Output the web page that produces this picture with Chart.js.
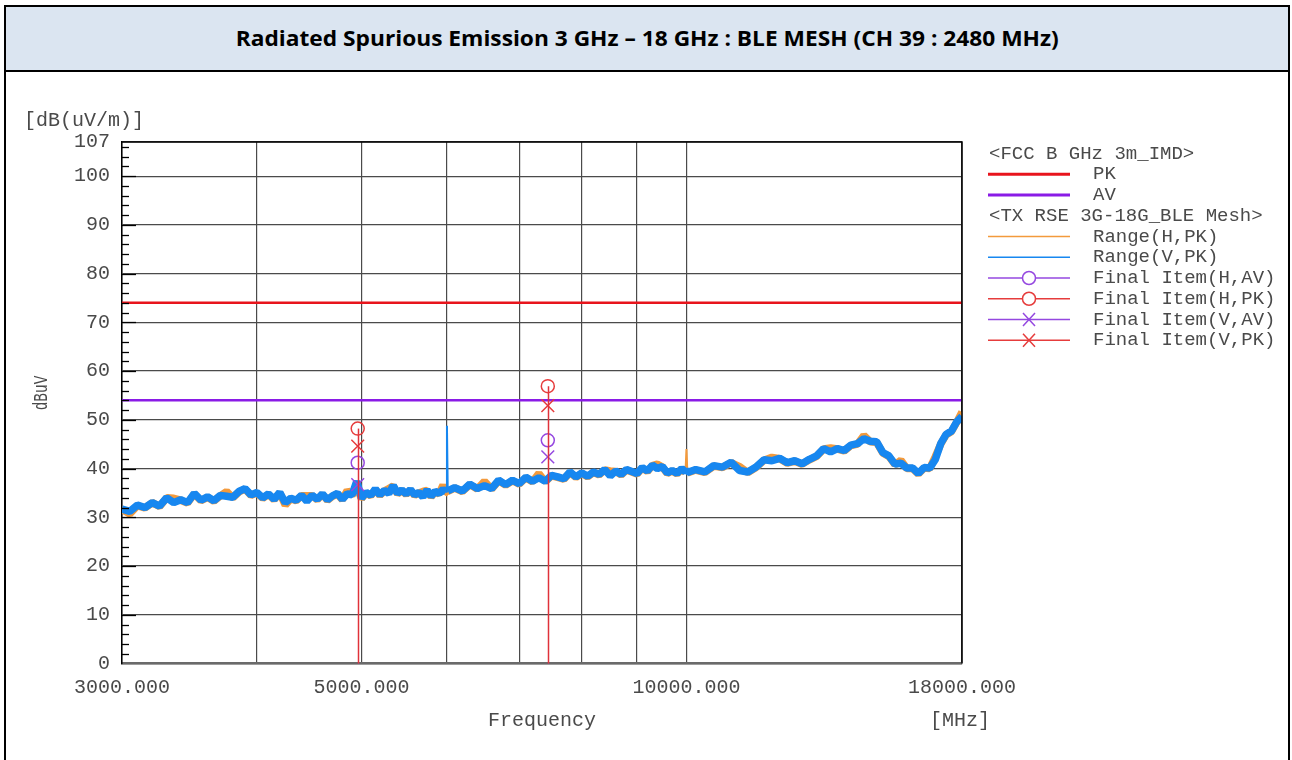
<!DOCTYPE html>
<html>
<head>
<meta charset="utf-8">
<script src="https://cdn.jsdelivr.net/npm/chart.js@4.4.0/dist/chart.umd.min.js"></script>
<style>
  body { margin: 0; background: #fff; width: 1292px; height: 760px; overflow: hidden; }
  #frame { position: absolute; left: 4px; top: 5px; width: 1286px; height: 800px; border: 2px solid #000; box-sizing: border-box; }
  #head { height: 63px; background: #dbe5f1; border-bottom: 2px solid #000; text-align: center; white-space: nowrap; overflow: hidden; }
  #title { display: inline-block; font-family: 'Open Sans', sans-serif; font-weight: 700; font-size: 20.5px; line-height: 63px; color: #000; transform-origin: center; }
  #chart { position: absolute; left: 6px; top: 72px; }
</style>
</head>
<body>
<div id="frame"><div id="head"><span id="title">Radiated Spurious Emission 3 GHz – 18 GHz : BLE MESH (CH 39 : 2480 MHz)</span></div></div>
<canvas id="chart" width="1282" height="688"></canvas>
<script>
// sweep frequencies [MHz]
const freqLow = [
  3000, 3050, 3100, 3150, 3200, 3250, 3300, 3350, 3400, 3450,
  3500, 3550, 3600, 3650, 3700, 3750, 3800, 3850, 3900, 3950,
  4000, 4050, 4100, 4150, 4200, 4250, 4300, 4350, 4400, 4450,
  4500, 4550, 4600, 4650, 4700, 4750, 4800, 4850, 4900, 4950,
  5000, 5050, 5100, 5150, 5200, 5250, 5300, 5350, 5400, 5450,
  5500, 5550, 5600, 5650, 5700, 5750, 5800, 5850, 5900, 5950,
  5990, 6000, 6010
];
const freqMid = [
  6100, 6200, 6300, 6400, 6500, 6600, 6700, 6800, 6900, 7000,
  7100, 7200, 7300, 7400, 7500, 7600, 7700, 7800, 7900, 8000,
  8100, 8200, 8300, 8400, 8500, 8600, 8700, 8800, 8900, 9000,
  9100, 9200, 9300, 9400, 9500, 9600, 9700, 9800, 9900,
  9980, 10000, 10020
];
const freqHigh = [
  10200, 10400, 10600, 10800, 11000, 11200, 11400, 11600, 11800, 12000,
  12200, 12400, 12600, 12800, 13000, 13200, 13400, 13600, 13800, 14000,
  14200, 14400, 14600, 14800, 15000, 15200, 15400, 15600, 15800, 16000,
  16200, 16400, 16600, 16800, 17000, 17200, 17400, 17600, 17800, 18000
];
const freqMHz = freqLow.concat(freqMid, freqHigh);

// Range(V,PK) - blue trace [dBuV]
const rangeV_PK = [
  31.7, 31.2, 32.5, 32.0, 33.0, 32.3, 34.0, 33.0, 33.6, 33.0,
  34.9, 33.5, 34.2, 33.4, 34.5, 34.3, 34.1, 35.3, 35.9, 34.6,
  35.1, 34.0, 34.8, 33.7, 35.1, 33.0, 33.9, 33.5, 34.5, 33.3,
  34.5, 33.7, 34.8, 33.6, 34.4, 34.9, 33.7, 34.8, 34.6, 37.4,
  33.9, 35.1, 34.5, 35.8, 34.6, 35.5, 34.9, 36.5, 34.9, 35.6,
  34.8, 35.7, 34.6, 35.1, 34.2, 35.6, 34.3, 35.3, 34.9, 35.7,
  35.2, 48.8, 35.4,
  36.1, 35.4, 36.8, 35.9, 36.5, 35.9, 37.6, 36.7, 37.6, 36.9,
  38.2, 37.4, 38.1, 37.4, 38.6, 38.3, 37.9, 39.3, 38.3, 39.1,
  38.4, 39.3, 38.8, 39.8, 38.5, 39.5, 38.8, 39.8, 39.4, 39.0,
  40.2, 39.5, 40.7, 40.0, 40.4, 39.1, 39.6, 39.0, 40.0,
  39.3, 40.0, 39.2,
  39.8, 39.3, 40.6, 40.3, 41.3, 39.6, 39.3, 40.3, 41.8, 41.6,
  42.1, 41.2, 41.6, 41.0, 41.9, 42.6, 44.1, 43.4, 44.1, 43.7,
  44.8, 45.1, 46.1, 45.6, 45.5, 43.3, 42.6, 40.9, 41.1, 40.1,
  40.1, 39.0, 40.2, 40.1, 41.8, 45.1, 47.0, 47.7, 49.6, 50.7
];

// Range(H,PK) - orange trace [dBuV]
const rangeH_PK = [
  31.6, 30.7, 32.4, 31.9, 33.0, 32.2, 34.0, 33.9, 33.5, 32.9,
  34.8, 33.4, 34.1, 33.3, 34.4, 35.3, 34.0, 35.2, 35.8, 34.5,
  35.0, 33.9, 34.7, 33.6, 35.0, 32.5, 33.8, 33.4, 34.4, 34.4,
  34.4, 33.6, 34.7, 33.5, 34.3, 34.8, 33.6, 35.5, 34.5, 36.2,
  33.8, 35.0, 34.4, 35.7, 34.5, 35.4, 35.9, 36.4, 34.8, 35.5,
  34.7, 35.6, 34.5, 35.0, 35.3, 35.5, 34.2, 35.2, 34.8, 36.6,
  35.1, 35.5, 35.3,
  36.0, 35.3, 36.7, 35.8, 37.4, 35.8, 37.5, 36.6, 37.5, 36.8,
  38.1, 37.3, 39.0, 37.3, 38.5, 38.2, 37.8, 39.2, 38.2, 39.0,
  38.3, 39.2, 38.7, 39.7, 39.5, 39.4, 38.7, 39.7, 39.3, 38.9,
  40.1, 39.4, 40.6, 40.9, 40.3, 39.0, 39.5, 38.9, 39.9,
  39.2, 44.0, 39.1,
  39.7, 39.2, 40.5, 40.2, 41.2, 40.4, 39.2, 40.2, 41.7, 42.3,
  42.0, 41.1, 41.5, 40.9, 41.8, 42.5, 44.0, 44.2, 44.0, 43.6,
  44.7, 45.0, 46.8, 45.5, 45.4, 43.2, 42.5, 40.8, 41.7, 40.0,
  40.0, 38.9, 40.1, 40.0, 42.4, 45.0, 46.9, 47.6, 49.5, 51.6
];
// narrow single-bin spikes
const spikeV = [6000];
const spikeH = [10000];

// FCC limits
const limitFreq = [3000, 18000];
const limitPK = [74, 74];
const limitAV = [54, 54];

// final measurement items
const finalFreq = [4960, 7440];
const finalH_AV = [41.2, 45.8];
const finalH_PK = [48.2, 56.9];
const finalV_AV = [36.7, 42.4];
const finalV_PK = [44.6, 52.9];

// axes
const yTicks = [0, 10, 20, 30, 40, 50, 60, 70, 80, 90, 100, 107];
const xGridFreq = [3000, 4000, 5000, 6000, 7000, 8000, 9000, 10000, 18000];
const xLabelFreq = [3000, 5000, 10000, 18000];

const RED = '#e8141c', PURPLE = '#8a1be6', ORANGE = '#f39a3c', BLUE = '#1787f0';
const MK_RED = '#e63c3c', MK_PURPLE = '#9548e0';
const MONO = "'Liberation Mono', 'DejaVu Sans Mono', monospace";
const TXT = '#4a4a4a';
const BAND = 7.5;

// fit title width
const title = document.getElementById('title');
title.style.transform = 'scaleX(' + (823 / title.getBoundingClientRect().width) + ')';

const pts = (xs, ys) => xs.map((x, i) => ({ x: x, y: ys[i] }));
const bandWidth = spikes => c =>
  (spikes.includes(freqMHz[c.p0DataIndex]) || spikes.includes(freqMHz[c.p1DataIndex])) ? 2 : BAND;

// stems from final items down to the axis
const stemPlugin = {
  id: 'stems',
  beforeDatasetDraw(chart, args) {
    const ds = chart.data.datasets[args.index];
    if (!ds.stemColor) return;
    const c = chart.ctx, bottom = chart.chartArea.bottom;
    c.save();
    c.strokeStyle = ds.stemColor;
    c.lineWidth = ds.stemWidth;
    args.meta.data.forEach(el => {
      const px = Math.round(el.x) + 0.5;
      c.beginPath();
      c.moveTo(px, el.y);
      c.lineTo(px, bottom);
      c.stroke();
    });
    c.restore();
  }
};

// frame, inner ticks, extra labels, legend
const decorPlugin = {
  id: 'decor',
  afterDatasetsDraw(chart) {
    const c = chart.ctx, a = chart.chartArea, y = chart.scales.y;
    c.save();
    c.strokeStyle = '#000';
    c.lineWidth = 1.5;
    c.beginPath();
    c.moveTo(a.left, a.top); c.lineTo(a.right, a.top); c.lineTo(a.right, a.bottom);
    c.stroke();
    c.lineWidth = 1.3;
    for (let v = 2; v < 107; v += 2) {
      const py = Math.round(y.getPixelForValue(v)) + 0.5;
      c.beginPath();
      c.moveTo(a.left, py);
      c.lineTo(a.left + (v % 10 === 0 ? 14 : 7), py);
      c.stroke();
    }
    c.restore();
  },
  afterDraw(chart) {
    const c = chart.ctx;
    c.save();
    c.fillStyle = TXT;
    c.font = '20px ' + MONO;
    c.textBaseline = 'middle';
    c.textAlign = 'left';
    c.fillText('[dB(uV/m)]', 18, 49);
    c.textAlign = 'center';
    c.fillText('Frequency', 536, 649);
    c.fillText('[MHz]', 954, 649);
    c.save();
    c.translate(36, 321);
    c.rotate(-Math.PI / 2);
    c.scale(0.72, 1);
    c.fillText('dBuV', 0, 0);
    c.restore();

    // legend
    const rows = ['<FCC B GHz 3m_IMD>', 'PK', 'AV', '<TX RSE 3G-18G_BLE Mesh>',
      'Range(H,PK)', 'Range(V,PK)', 'Final Item(H,AV)', 'Final Item(H,PK)',
      'Final Item(V,AV)', 'Final Item(V,PK)'];
    c.font = '19px ' + MONO;
    c.textAlign = 'left';
    rows.forEach((label, i) => {
      const ry = 81.5 + i * 20.75;
      const ds = chart.data.datasets.find(d => d.label === label);
      c.fillStyle = TXT;
      if (!ds) { c.fillText(label, 983, ry); return; }
      c.fillText(label, 1087, ry);
      const col = ds.legendColor || ds.borderColor;
      c.strokeStyle = col;
      c.lineWidth = ds.legendWidth || 1.5;
      c.beginPath();
      c.moveTo(982, ry); c.lineTo(1064, ry);
      c.stroke();
      c.lineWidth = 1.5;
      if (ds.pointStyle === 'circle') {
        c.beginPath();
        c.arc(1023, ry, 6.5, 0, Math.PI * 2);
        c.fillStyle = '#fff';
        c.fill();
        c.stroke();
      } else if (ds.pointStyle === 'crossRot') {
        c.beginPath();
        c.moveTo(1017, ry - 6.5); c.lineTo(1029, ry + 6.5);
        c.moveTo(1029, ry - 6.5); c.lineTo(1017, ry + 6.5);
        c.stroke();
      }
    });
    c.restore();
  }
};

const marker = (label, xs, ys, color, style, order, stem, stemWidth) => ({
  label: label, data: pts(xs, ys), showLine: false, order: order,
  borderColor: color, legendColor: color, pointStyle: style,
  pointRadius: style === 'circle' ? 6.5 : 9, pointBorderWidth: 1.5,
  pointBorderColor: color, pointBackgroundColor: 'rgba(0,0,0,0)',
  stemColor: stem, stemWidth: stemWidth
});

new Chart(document.getElementById('chart').getContext('2d'), {
  type: 'line',
  data: {
    datasets: [
      marker('Final Item(H,PK)', finalFreq, finalH_PK, MK_RED, 'circle', 0, '#e0323a', 1.5),
      marker('Final Item(V,PK)', finalFreq, finalV_PK, MK_RED, 'crossRot', 0),
      marker('Final Item(H,AV)', finalFreq, finalH_AV, MK_PURPLE, 'circle', 1, '#9a3ad8', 1),
      marker('Final Item(V,AV)', finalFreq, finalV_AV, MK_PURPLE, 'crossRot', 1),
      { label: 'PK', data: pts(limitFreq, limitPK), borderColor: RED, borderWidth: 2.5, legendWidth: 3, pointRadius: 0, order: 2 },
      { label: 'AV', data: pts(limitFreq, limitAV), borderColor: PURPLE, borderWidth: 2.5, legendWidth: 3, pointRadius: 0, order: 2 },
      { label: 'Range(V,PK)', data: pts(freqMHz, rangeV_PK), borderColor: BLUE, borderWidth: BAND, legendWidth: 1.5,
        segment: { borderWidth: bandWidth(spikeV) }, pointRadius: 0, order: 3 },
      { label: 'Range(H,PK)', data: pts(freqMHz, rangeH_PK), borderColor: ORANGE, borderWidth: BAND, legendWidth: 1.5,
        segment: { borderWidth: bandWidth(spikeH) }, pointRadius: 0, order: 4 }
    ]
  },
  options: {
    responsive: false,
    animation: false,
    devicePixelRatio: 1,
    layout: { padding: { left: 0, top: 70, right: 326, bottom: 0 } },
    plugins: { legend: { display: false }, tooltip: { enabled: false } },
    elements: { line: { tension: 0, borderJoinStyle: 'bevel' } },
    scales: {
      x: {
        type: 'logarithmic', min: 3000, max: 18000,
        afterBuildTicks: s => { s.ticks = xGridFreq.map(v => ({ value: v })); },
        afterFit: s => { s.height = 96.5; },
        grid: { color: '#4a4a4a', lineWidth: 1.2, drawTicks: false },
        border: { display: true, color: '#6a6a6a', width: 2.5 },
        ticks: {
          autoSkip: false, maxRotation: 0, padding: 12, color: TXT,
          font: { family: MONO, size: 20 },
          callback: v => xLabelFreq.includes(v) ? v.toFixed(3) : ''
        }
      },
      y: {
        min: 0, max: 107,
        afterBuildTicks: s => { s.ticks = yTicks.map(v => ({ value: v })); },
        afterFit: s => { s.width = 116; },
        grid: { color: '#4a4a4a', lineWidth: 1.2, drawTicks: false },
        border: { display: true, color: '#000', width: 1.5 },
        ticks: { padding: 12, color: TXT, font: { family: MONO, size: 20 }, callback: v => String(v) }
      }
    }
  },
  plugins: [stemPlugin, decorPlugin]
});
</script>
</body>
</html>
